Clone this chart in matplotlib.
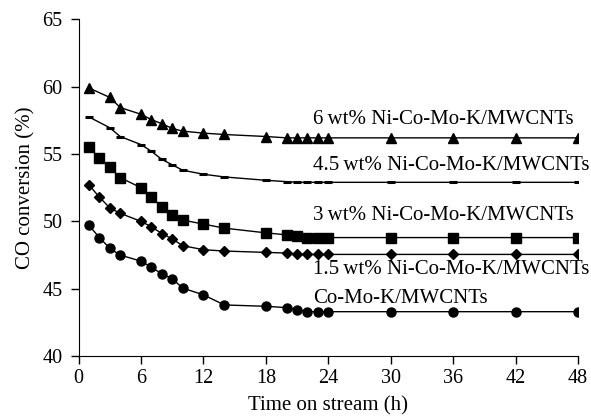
import numpy as np
import matplotlib.pyplot as plt

plt.rcParams['font.family'] = ['Liberation Serif', 'DejaVu Serif']

# time points (h)
t_full = [1, 2, 3, 4, 6, 7, 8, 9, 10, 12, 14, 18, 20, 21, 22, 23, 24, 30, 36, 42, 48]
t_skip = [1, 3, 4, 6, 7, 8, 9, 10, 12, 14, 18, 20, 21, 22, 23, 24, 30, 36, 42, 48]

# CO conversion (%)
ni60 = [59.9, 59.2, 58.45, 57.95, 57.55, 57.25, 56.9, 56.7, 56.55, 56.45,
        56.3, 56.2, 56.2, 56.2, 56.2, 56.2, 56.2, 56.2, 56.2, 56.2]
ni45 = [57.75, 56.95, 56.3, 55.7, 55.2, 54.6, 54.2, 53.8, 53.5, 53.3,
        53.05, 52.95, 52.9, 52.9, 52.9, 52.9, 52.9, 52.9, 52.9, 52.9]
ni30 = [55.5, 54.7, 54.0, 53.25, 52.5, 51.8, 51.05, 50.5, 50.1, 49.8, 49.5,
        49.15, 49.0, 48.9, 48.8, 48.8, 48.8, 48.8, 48.8, 48.8, 48.8]
ni15 = [52.7, 51.8, 51.0, 50.6, 50.0, 49.6, 49.1, 48.7, 48.2, 47.9, 47.8,
        47.7, 47.65, 47.55, 47.55, 47.55, 47.55, 47.55, 47.55, 47.55, 47.55]
ni00 = [49.7, 48.8, 48.0, 47.5, 47.05, 46.6, 46.1, 45.75, 45.05, 44.55, 43.8,
        43.7, 43.6, 43.45, 43.3, 43.3, 43.3, 43.3, 43.3, 43.3, 43.3]

labels = ['6\u2009wt% Ni-Co-Mo-K/MWCNTs', '4.5\u2009wt% Ni-Co-Mo-K/MWCNTs',
          '3\u2009wt% Ni-Co-Mo-K/MWCNTs', '1.5\u2009wt% Ni-Co-Mo-K/MWCNTs',
          'Co-Mo-K/MWCNTs']
label_y = [57.55, 54.15, 50.45, 46.45, 44.3]

fig = plt.figure(figsize=(5.91, 4.19), dpi=100)
ax = fig.add_axes([0.133, 0.15, 0.845, 0.804])

kw = dict(color='black', lw=1.0)
ax.plot(t_skip, ni60, marker='^', ms=7.5, **kw)
ax.plot(t_skip, ni45, marker='_', ms=6, mew=2.2, **kw)
ax.plot(t_full, ni30, marker='s', ms=6.5, **kw)
ax.plot(t_full, ni15, marker='D', ms=4.8, **kw)
ax.plot(t_full, ni00, marker='o', ms=6.5, **kw)

for lab, yv in zip(labels, label_y):
    ax.text(22.5, yv, lab, fontsize=15, va='center', ha='left')

ax.set_xlim(0, 48)
ax.set_ylim(40, 65)
ax.set_xticks(np.arange(0, 49, 6))
ax.set_yticks(np.arange(40, 66, 5))
ax.spines['top'].set_visible(False)
ax.spines['right'].set_visible(False)
ax.tick_params(direction='out', length=5.5, width=1, labelsize=14.5)
ax.tick_params(axis='x', pad=4)
ax.tick_params(axis='y', pad=6)
ax.set_xlabel('Time on stream (h)', fontsize=15, labelpad=6)
ax.set_ylabel('CO conversion (%)', fontsize=15, labelpad=5)

fig.savefig('out.png', dpi=100)
